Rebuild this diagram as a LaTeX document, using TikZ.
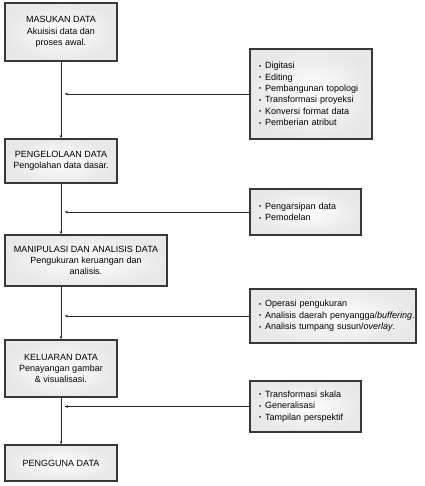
\documentclass[tikz,border=0pt]{standalone}
\usepackage{fontspec}
\setmainfont{Liberation Sans}
\usetikzlibrary{arrows.meta,shadings}
\newcommand{\bl}{\makebox[6pt][l]{\raisebox{0.6pt}{\scalebox{0.7}{•}}}}
\begin{document}
\begin{tikzpicture}[x=1pt,y=-1pt,
  boxbase/.style={draw=black!78, line width=1.2pt, inner color=white, outer color=black!9, inner sep=0pt,
    font=\fontsize{9}{11.4}\selectfont},
  mainbox/.style={boxbase, align=center},
  sidebox/.style={boxbase, align=left, text width=#1, inner xsep=9pt},
  conn/.style={draw=black!85, line width=0.7pt},
  tip/.style={-{Stealth[length=3.5pt,width=2.6pt]}}
]
\useasboundingbox (0,0) rectangle (424,486);
% main column
\node[mainbox, minimum width=112pt, minimum height=58pt] (b1) at (61,32) {MASUKAN DATA\\Akuisisi data dan\\proses awal.};
\node[mainbox, minimum width=112pt, minimum height=44pt] (b2) at (61,161) {PENGELOLAAN DATA\\Pengolahan data dasar.};
\node[mainbox, minimum width=162pt, minimum height=51pt] (b3) at (86,260.5) {MANIPULASI DAN ANALISIS DATA\\Pengukuran keruangan dan\\analisis.};
\node[mainbox, minimum width=112pt, minimum height=57pt] (b4) at (61,368.5) {KELUARAN DATA\\Penayangan gambar\\\& visualisasi.};
\node[mainbox, minimum width=112pt, minimum height=36pt] (b5) at (61,463) {PENGGUNA DATA};
% side boxes
\node[sidebox=104pt, minimum width=122pt, minimum height=90pt] (r1) at (311,94) {\bl Digitasi\\\bl Editing\\\bl Pembangunan topologi\\\bl Transformasi proyeksi\\\bl Konversi format data\\\bl Pemberian atribut};
\node[sidebox=93pt, minimum width=111pt, minimum height=46pt] (r2) at (305.5,212) {\bl Pengarsipan data\\\bl Pemodelan};
\node[sidebox=148pt, minimum width=166pt, minimum height=54pt] (r3) at (333,316) {\bl Operasi pengukuran\\\mbox{\bl Analisis daerah penyangga/\textit{buffering}.}\\\mbox{\bl Analisis tumpang susun/\textit{overlay}.}};
\node[sidebox=93pt, minimum width=111pt, minimum height=51pt] (r4) at (305.5,406.5) {\bl Transformasi skala\\\bl Generalisasi\\\bl Tampilan perspektif};
% arrow end x-position
\coordinate (tipx) at (64.5,0);
% vertical connectors
\draw[conn,tip] (b1.south) -- (b2.north);
\draw[conn,tip] (b2.south) -- (b2.south |- b3.north);
\draw[conn,tip] (b3.south -| b1.south) -- (b4.north);
\draw[conn,tip] (b4.south) -- (b5.north);
% horizontal connectors
\draw[conn,tip] (r1.west) -- (r1.west -| tipx);
\draw[conn,tip] (r2.west) -- (r2.west -| tipx);
\draw[conn,tip] (r3.west) -- (r3.west -| tipx);
\draw[conn,tip] (r4.west) -- (r4.west -| tipx);
\end{tikzpicture}
\end{document}
